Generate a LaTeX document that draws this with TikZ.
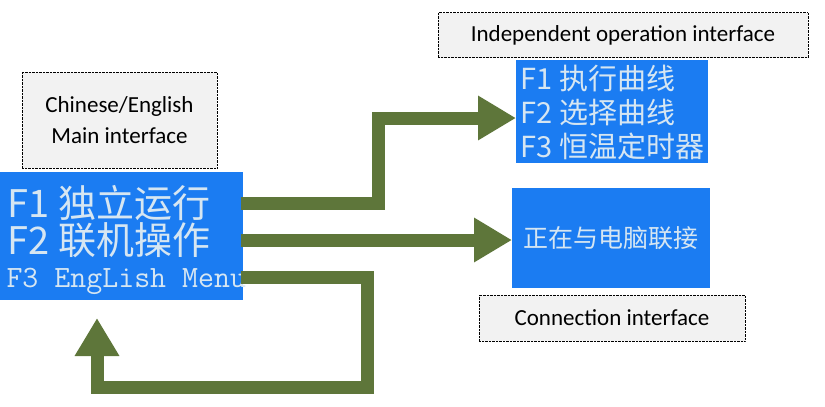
\documentclass[tikz,border=0pt]{standalone}
\usepackage{fontspec}
\setmainfont{Carlito}
\newfontfamily\cjk{Noto Sans CJK SC}
\usetikzlibrary{arrows.meta}
\definecolor{arr}{HTML}{5E763A}
\definecolor{scr}{HTML}{1B7CF2}
\definecolor{scrt}{HTML}{D6E6F2}
\definecolor{lab}{HTML}{F2F2F2}
\begin{document}
\begin{tikzpicture}[x=1pt,y=-1pt,
  lbl/.style={draw=black,densely dotted,fill=lab,font=\fontsize{23}{31}\selectfont,align=center,inner sep=0pt},
  scr/.style={fill=scr,text=scrt,inner sep=0pt,align=left},
  ar/.style={draw=arr,line width=13pt,-{Triangle[width=42pt,length=38pt]}}]
\useasboundingbox (0,0) rectangle (825,407);
\node[lbl,minimum width=195,minimum height=96] (l1) at (119.5,120) {Chinese/English\\Main interface};
\node[lbl,minimum width=370,minimum height=45] (l2) at (623,35) {Independent operation interface};
\node[lbl,minimum width=266,minimum height=46] (l3) at (612,318) {Connection interface};
\node[scr,minimum width=243,minimum height=128,anchor=north west] (m) at (0,172) {};
\node[scrt,anchor=west,font=\cjk\fontsize{38}{40}\selectfont] at (4,203) {F1 独立运行};
\node[scrt,anchor=west,font=\cjk\fontsize{38}{40}\selectfont] at (4,240) {F2 联机操作};
\node[scrt,anchor=west,font=\ttfamily\fontsize{31}{32}\selectfont] at (3,281) {F3 EngLish Menu};
\node[scr,minimum width=192,minimum height=103,anchor=north west] (t) at (516,60) {};
\node[scrt,anchor=west,font=\cjk\fontsize{29}{31}\selectfont] at (517,78) {F1 执行曲线};
\node[scrt,anchor=west,font=\cjk\fontsize{29}{31}\selectfont] at (517,112) {F2 选择曲线};
\node[scrt,anchor=west,font=\cjk\fontsize{29}{31}\selectfont] at (517,146) {F3 恒温定时器};
\node[scr,minimum width=198,minimum height=100,anchor=north west] (c) at (512,188) {};
\node[scrt,font=\cjk\fontsize{25}{27}\selectfont] at (c.center) {正在与电脑联接};
\coordinate (a1) at (241,203);
\coordinate (a2) at (241,240);
\coordinate (a3) at (241,277);
\coordinate (b3) at (97,318);
\draw[ar] (a1) -- (378,203) -- (378,118) -- (t.west |- 0,118);
\draw[ar] (a2) -- (c.west |- a2);
\draw[ar] (a3) -- (367,277) -- (367,387) -- (97,387) -- (b3);
\end{tikzpicture}
\end{document}
